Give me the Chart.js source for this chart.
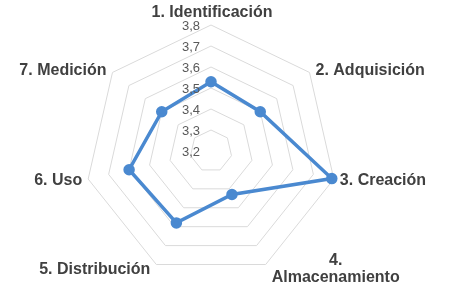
<!DOCTYPE html>
<html>
<head>
<meta charset="utf-8">
<script src="https://cdn.jsdelivr.net/npm/chart.js@4/dist/chart.umd.min.js"></script>
<style>
  html, body { margin: 0; padding: 0; background: #fff; }
  #wrap { width: 461px; height: 293px; }
</style>
</head>
<body>
<div id="wrap"><canvas id="radarChart"></canvas></div>
<script>
const categories = [
  "1. Identificación",
  "2. Adquisición",
  "3. Creación",
  ["4.", "Almacenamiento"],
  "5. Distribución",
  "6. Uso",
  "7. Medición",
];
const scores = [3.53, 3.5, 3.79, 3.43, 3.58, 3.6, 3.5];
const tick_labels = ["3,2", "3,3", "3,4", "3,5", "3,6", "3,7", "3,8"];

const FONT = "'Liberation Sans', Arial, sans-serif";

// Excel style labels: beside the vertex, vertically centred
// (chart.js puts them above/below), so draw them here from the scale
const axisLabelPlugin = {
  id: "axisLabels",
  afterDatasetsDraw(chart) {
    const scale = chart.scales.r;
    const ctx = chart.ctx;
    const r = scale.drawingArea;
    ctx.save();

    // tick labels, left of the vertical axis
    ctx.font = "13px " + FONT;
    ctx.fillStyle = "#595959";
    ctx.textAlign = "right";
    ctx.textBaseline = "middle";
    scale.ticks.forEach((tick, i) => {
      const d = scale.getDistanceFromCenterForValue(tick.value);
      ctx.fillText(tick_labels[i], scale.xCenter - 11, scale.yCenter - d + 1);
    });

    // category labels
    ctx.font = "bold 16px " + FONT;
    ctx.fillStyle = "#404040";
    categories.forEach((label, i) => {
      const pos = scale.getPointPosition(i, r);
      const dx = pos.x - scale.xCenter;
      const lines = Array.isArray(label) ? label : [label];
      const lineH = 17;
      let y = pos.y + ((pos.y - scale.yCenter) / r) * 4 + 1;
      if (Math.abs(dx) < 1) {
        ctx.textAlign = "center";
        ctx.fillText(lines[0], pos.x + 1, pos.y - 12);
        return;
      }
      const widths = lines.map((l) => ctx.measureText(l).width);
      const blockW = Math.max(...widths);
      const left = dx > 0 ? pos.x + 6 : pos.x - 6 - blockW;
      const top = y - ((lines.length - 1) * lineH) / 2;
      ctx.textAlign = "center";
      lines.forEach((l, j) => {
        ctx.fillText(l, left + blockW / 2, top + j * lineH);
      });
    });
    ctx.restore();
  },
};

const makeGraph = () => {
  const chart_ctx = document.getElementById("radarChart");
  const data = {
    labels: categories,
    datasets: [
      {
        label: "Promedio",
        data: scores,
        borderColor: "#4a89d0",
        backgroundColor: "rgba(0,0,0,0)",
        borderWidth: 3.5,
        pointBackgroundColor: "#4a89d0",
        pointBorderColor: "#4a89d0",
        pointRadius: 4,
        fill: false,
      },
    ],
  };
  const config = {
    type: "radar",
    data,
    options: {
      responsive: true,
      maintainAspectRatio: false,
      animation: false,
      layout: { padding: { left: 0, right: 39, top: 25, bottom: 16 } },
      plugins: {
        legend: { display: false },
        tooltip: { enabled: false },
      },
      scales: {
        r: {
          min: 3.2,
          max: 3.8,
          ticks: { stepSize: 0.1, display: false },
          angleLines: { display: false },
          grid: { color: "#dadada", lineWidth: 1 },
          pointLabels: { display: false },
        },
      },
    },
    plugins: [axisLabelPlugin],
  };
  return new Chart(chart_ctx, config);
};

makeGraph();
</script>
</body>
</html>
